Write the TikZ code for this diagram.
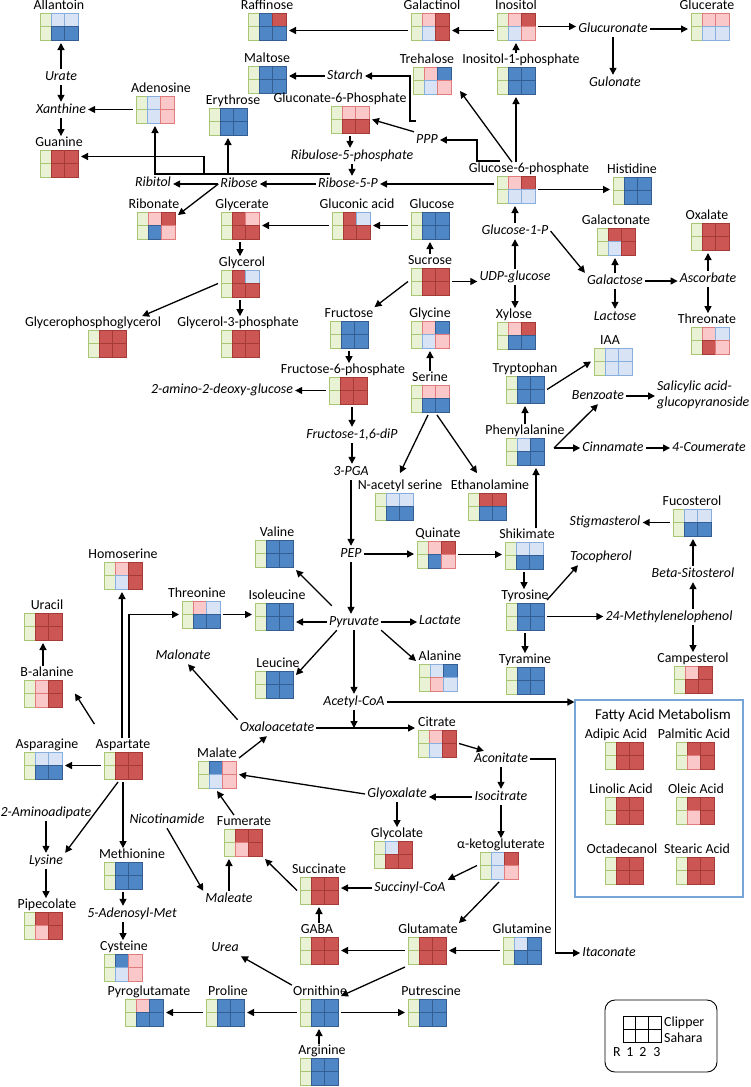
\documentclass[tikz,border=0pt]{standalone}
\usepackage{fontspec}
\setmainfont{Carlito}
\usetikzlibrary{positioning}
\usetikzlibrary{arrows.meta}

\definecolor{redF}{RGB}{203,86,84}
\definecolor{redB}{RGB}{165,58,55}
\definecolor{pinkF}{RGB}{250,200,200}
\definecolor{pinkB}{RGB}{226,124,124}
\definecolor{bluF}{RGB}{79,134,198}
\definecolor{bluB}{RGB}{52,94,146}
\definecolor{skyF}{RGB}{216,228,245}
\definecolor{skyB}{RGB}{134,174,222}
\definecolor{grnF}{RGB}{234,242,214}
\definecolor{grnB}{RGB}{168,198,116}
\definecolor{faB}{RGB}{120,165,215}

\newcommand\dfont{\fontsize{13.9}{16}\selectfont}

\tikzset{
  cg/.style={fill=grnF, draw=grnB, line width=0.8pt},
  cR/.style={fill=redF, draw=redB, line width=1pt},
  cr/.style={fill=pinkF, draw=pinkB, line width=0.8pt},
  cB/.style={fill=bluF, draw=bluB, line width=1pt},
  cb/.style={fill=skyF, draw=skyB, line width=0.8pt},
  glyph/.style={rectangle, minimum width=38pt, minimum height=27pt, inner sep=0pt, outer sep=3pt},
  lbl/.style={font=\dfont, inner sep=1pt, text height=9.5pt, text depth=2.5pt},
  mid/.style={font=\dfont\itshape, inner sep=2pt, text height=9.5pt, text depth=2.5pt},
  arr/.style={line width=1.3pt, -{Triangle[length=7pt,width=7pt]}}
}

% glyph: id, x, y, label shift, label, top-1, top-2, bottom-1, bottom-2
\newcommand\met[9]{%
  \begin{scope}[shift={(#2,#3)}]
    \path[cg] (0,0) rectangle (11,13.5) (0,13.5) rectangle (11,27);
    \path[c#6] (11,0) rectangle (24.5,13.5);
    \path[c#7] (24.5,0) rectangle (38,13.5);
    \path[c#8] (11,13.5) rectangle (24.5,27);
    \path[c#9] (24.5,13.5) rectangle (38,27);
    \node[glyph] (#1) at (19,13.5) {};
  \end{scope}
  \node[lbl, above=-3.5pt of #1, xshift=#4pt] (#1-l) {#5};}

\begin{document}
\begin{tikzpicture}[x=1pt, y=-1pt]
  \useasboundingbox (0,0) rectangle (750,1087);

  \met{allantoin}{40}{13}{0}{Allantoin}{b}{b}{B}{B}
  \met{raffinose}{248}{13}{0}{Raffinose}{B}{R}{B}{B}
  \met{galactinol}{411}{13}{2}{Galactinol}{r}{R}{b}{R}
  \met{inositol}{497}{13}{0}{Inositol}{r}{R}{b}{r}
  \met{glucerate}{691}{13}{-3}{Glucerate}{r}{r}{b}{b}
  \met{maltose}{248}{66}{0}{Maltose}{B}{B}{B}{B}
  \met{trehalose}{413}{67}{-5}{Trehalose}{r}{B}{b}{r}
  \met{inositolp}{497}{67}{5}{Inositol-1-phosphate}{B}{B}{B}{B}
  \met{adenosine}{136}{96}{6}{Adenosine}{b}{r}{b}{r}
  \met{erythrose}{209}{108}{5}{Erythrose}{B}{B}{B}{B}
  \met{gluconatep}{331}{106}{-10}{Gluconate-6-Phosphate}{r}{r}{R}{R}
  \met{guanine}{40}{150}{0}{Guanine}{R}{R}{R}{R}
  \met{gsixp}{497}{176}{13}{Glucose-6-phosphate}{r}{R}{b}{b}
  \met{histidine}{613}{177}{0}{Histidine}{B}{B}{B}{B}
  \met{ribonate}{137}{212}{-2}{Ribonate}{r}{R}{B}{r}
  \met{glycerate}{221}{212}{2}{Glycerate}{R}{r}{R}{R}
  \met{gluconic}{332}{212}{6}{Gluconic acid}{R}{b}{R}{R}
  \met{glucose}{411}{212}{2}{Glucose}{B}{B}{B}{B}
  \met{galactonate}{597}{228}{0}{Galactonate}{R}{R}{b}{R}
  \met{oxalate}{691}{223}{-3}{Oxalate}{R}{R}{R}{R}
  \met{glycerol}{221}{270}{2}{Glycerol}{R}{b}{R}{R}
  \met{sucrose}{411}{268}{0}{Sucrose}{R}{R}{R}{R}
  \met{gpg}{88}{330}{-14}{Glycerophosphoglycerol}{R}{R}{R}{R}
  \met{glycerolp}{221}{330}{-2}{Glycerol-3-phosphate}{R}{R}{R}{R}
  \met{fructose}{330}{321}{0}{Fructose}{B}{B}{B}{B}
  \met{glycine}{411}{321}{0}{Glycine}{r}{B}{b}{r}
  \met{xylose}{497}{322}{-2}{Xylose}{r}{R}{B}{B}
  \met{threonate}{691}{327}{-3}{Threonate}{r}{b}{R}{r}
  \met{iaa}{594}{348}{-3}{IAA}{b}{b}{b}{b}
  \met{fsixp}{329}{377}{-5}{Fructose-6-phosphate}{R}{R}{R}{R}
  \met{tryptophan}{506}{376}{0}{Tryptophan}{B}{B}{B}{B}
  \met{serine}{411}{385}{0}{Serine}{r}{r}{B}{B}
  \met{phenylalanine}{506}{438}{0}{Phenylalanine}{b}{B}{B}{B}
  \met{nacetylserine}{375}{493}{6}{N-acetyl serine}{b}{b}{B}{B}
  \met{ethanolamine}{468}{493}{3}{Ethanolamine}{R}{R}{B}{B}
  \met{fucosterol}{673}{509}{0}{Fucosterol}{b}{b}{B}{B}
  \met{valine}{255}{540}{3}{Valine}{B}{B}{B}{B}
  \met{quinate}{417}{541}{2}{Quinate}{r}{R}{B}{r}
  \met{shikimate}{505}{542}{3}{Shikimate}{b}{b}{B}{B}
  \met{homoserine}{104}{562}{0}{Homoserine}{r}{R}{b}{R}
  \met{threonine}{182}{601}{-4}{Threonine}{r}{b}{B}{B}
  \met{isoleucine}{255}{603}{3}{Isoleucine}{B}{B}{B}{B}
  \met{tyrosine}{506}{603}{0}{Tyrosine}{B}{B}{B}{B}
  \met{uracil}{24}{613}{4}{Uracil}{R}{R}{R}{R}
  \met{balanine}{24}{680}{4}{B-alanine}{r}{R}{r}{R}
  \met{leucine}{255}{671}{4}{Leucine}{B}{B}{B}{B}
  \met{alanine}{419}{664}{2}{Alanine}{b}{B}{r}{b}
  \met{tyramine}{506}{667}{0}{Tyramine}{B}{B}{B}{B}
  \met{campesterol}{674}{666}{0}{Campesterol}{r}{R}{R}{R}
  \met{citrate}{418}{730}{0}{Citrate}{r}{R}{b}{R}
  \met{asparagine}{24}{752}{4}{Asparagine}{b}{b}{B}{B}
  \met{aspartate}{104}{752}{0}{Aspartate}{R}{R}{R}{R}
  \met{malate}{198}{761}{0}{Malate}{B}{r}{b}{r}
  \met{fumerate}{224}{829}{1}{Fumerate}{R}{R}{r}{R}
  \met{glycolate}{374}{841}{4}{Glycolate}{b}{R}{R}{R}
  \met{aketo}{480}{852}{2}{α-ketogluterate}{b}{R}{b}{r}
  \met{methionine}{104}{862}{9}{Methionine}{B}{B}{B}{B}
  \met{pipecolate}{24}{912}{4}{Pipecolate}{R}{R}{r}{R}
  \met{succinate}{300}{877}{0}{Succinate}{R}{R}{R}{R}
  \met{gaba}{300}{937}{-2}{GABA}{R}{R}{R}{R}
  \met{glutamate}{408}{937}{1}{Glutamate}{R}{R}{R}{R}
  \met{glutamine}{503}{937}{0}{Glutamine}{b}{B}{B}{B}
  \met{cysteine}{104}{954}{1}{Cysteine}{B}{r}{b}{r}
  \met{pyroglutamate}{125}{999}{5}{Pyroglutamate}{r}{B}{B}{B}
  \met{proline}{206}{999}{3}{Proline}{B}{B}{B}{B}
  \met{ornithine}{300}{999}{1}{Ornithine}{B}{B}{B}{B}
  \met{putrescine}{408}{999}{4}{Putrescine}{B}{B}{B}{B}
  \met{arginine}{300}{1058}{3}{Arginine}{B}{B}{B}{B}

  \node[draw=faB, line width=1.1pt, minimum width=168pt, minimum height=197pt, inner sep=0pt] (fa) at (659,798.5) {};
  \node[lbl, font=\fontsize{15}{17}\selectfont] (fa-t) at (663,716) {Fatty Acid Metabolism};
  \met{adipic}{605}{742}{-8}{Adipic Acid}{R}{R}{R}{R}
  \met{palmitic}{676}{742}{-1}{Palmitic Acid}{R}{R}{r}{R}
  \met{linolic}{605}{797}{-3}{Linolic Acid}{R}{R}{R}{R}
  \met{oleic}{676}{797}{1}{Oleic Acid}{R}{R}{r}{R}
  \met{octadecanol}{605}{857}{-2}{Octadecanol}{R}{R}{R}{R}
  \met{stearic}{676}{857}{2}{Stearic Acid}{R}{R}{R}{R}

  \node[mid] (urate) at (61,77) {Urate};
  \node[mid] (xanthine) at (61,110) {Xanthine};
  \node[mid] (starch) at (345,76) {Starch};
  \node[mid] (glucuronate) at (613,29) {Glucuronate};
  \node[mid] (gulonate) at (615,83) {Gulonate};
  \node[mid] (ppp) at (427,140) {PPP};
  \node[mid] (ribulose) at (352,156) {Ribulose-5-phosphate};
  \node[mid] (ribitol) at (153,183) {Ribitol};
  \node[mid] (ribose) at (239,184) {Ribose};
  \node[mid] (rfivep) at (348,184) {Ribose-5-P};
  \node[mid] (gonep) at (515,231) {Glucose-1-P};
  \node[mid] (udpg) at (515,277) {UDP-glucose};
  \node[mid] (galactose) at (615,281) {Galactose};
  \node[mid] (lactose) at (615,317) {Lactose};
  \node[mid] (ascorbate) at (708,279) {Ascorbate};
  \node[mid] (aadg) at (222,390) {2-amino-2-deoxy-glucose};
  \node[mid] (fonesix) at (352,435) {Fructose-1,6-diP};
  \node[mid] (pga) at (351,472) {3-PGA};
  \node[mid] (benzoate) at (598,396) {Benzoate};
  \node[mid, align=left, anchor=west, text height=, text depth=] (salicylic) at (655,395) {Salicylic acid-\\glucopyranoside};
  \node[mid] (cinnamate) at (613,448) {Cinnamate};
  \node[mid] (coumerate) at (709,448) {4-Coumerate};
  \node[mid] (stigmasterol) at (605,522) {Stigmasterol};
  \node[mid] (tocopherol) at (601,557) {Tocopherol};
  \node[mid] (pep) at (351,554) {PEP};
  \node[mid] (betasito) at (693,574) {Beta-Sitosterol};
  \node[mid] (methylen) at (669,617) {24-Methylenelophenol};
  \node[mid] (pyruvate) at (354,622) {Pyruvate};
  \node[mid] (lactate) at (440,621) {Lactate};
  \node[mid] (malonate) at (183,656) {Malonate};
  \node[mid] (acetylcoa) at (354,702) {Acetyl-CoA};
  \node[mid] (oxaloacetate) at (277,728) {Oxaloacetate};
  \node[mid] (aconitate) at (501,759) {Aconitate};
  \node[mid] (glyoxalate) at (397,794) {Glyoxalate};
  \node[mid] (isocitrate) at (501,797) {Isocitrate};
  \node[mid] (aminoadipate) at (46,813) {2-Aminoadipate};
  \node[mid] (nicotinamide) at (167,820) {Nicotinamide};
  \node[mid] (lysine) at (46,861) {Lysine};
  \node[mid] (succinylcoa) at (410,888) {Succinyl-CoA};
  \node[mid] (maleate) at (229,899) {Maleate};
  \node[mid] (sadenosyl) at (132,914) {5-Adenosyl-Met};
  \node[mid] (urea) at (225,948) {Urea};
  \node[mid] (itaconate) at (609,953) {Itaconate};

  \node[draw, rounded corners=10pt, line width=0.9pt, minimum width=112pt, minimum height=72pt] (leg) at (661,1036) {};
  \foreach \i in {0,1,2}
    \foreach \j in {0,1}
      \draw[line width=0.9pt] (623+\i*12.67,1016+\j*13) rectangle ++(12.67,13);
  \node[lbl, anchor=west] (clipper) at (663,1023) {Clipper};
  \node[lbl, anchor=west] (sahara) at (663,1039) {Sahara};
  \foreach \t/\x in {R/617,1/630,2/643,3/657}
    \node[lbl] (leg\t) at (\x,1053) {\t};

  \coordinate (rfive) at (330,174);
  \coordinate (gbend) at (204,174);
  \coordinate (pppup) at (416,121);
  \coordinate (gsixpl) at (500,161);
  \coordinate (phej) at (554,448);
  \coordinate (pheS) at ([xshift=11pt]phenylalanine.south);
  \coordinate (aspA) at ([xshift=-1pt]aspartate-l.north);
  \coordinate (aspB) at ([xshift=6pt]aspartate-l.north);

  \draw[arr] (urate.north) -- (urate.north |- allantoin.south);
  \draw[arr] (urate.south) -- (urate.south |- xanthine.north);
  \draw[arr] (xanthine.south) -- (xanthine.south |- guanine-l.north);
  \draw[arr] (adenosine.west) -- (adenosine.west -| xanthine.east);
  \draw[arr] (rfive) -- (rfive -| adenosine.south) -- (adenosine.south);
  \draw[arr] (rfive -| erythrose.south) -- (erythrose.south);
  \draw[arr] (gbend) |- ([yshift=7pt]guanine.east);
  \draw[arr] (gluconatep.south) -- (gluconatep.south |- ribulose.north);
  \draw[arr] (ribulose.south) -- (ribulose.south |- rfivep.north);
  \draw[arr] (ppp.north west) -- (gluconatep.east);
  \draw[arr] (pppup) -- ++(-6,0) |- (starch.east);
  \draw[arr] (gsixpl) -- ++(-23,0) |- (ppp.east);
  \draw[arr] ([xshift=-17pt]gsixp-l.north) -- ([xshift=6pt,yshift=6pt]trehalose.south east);
  \draw[arr] (gsixp-l.north -| inositolp.south) -- (inositolp.south);
  \draw[arr] (inositolp-l.north -| inositol.south) -- (inositol.south);
  \draw[arr] ([yshift=-4pt]inositol.west) -- ([yshift=-4pt]galactinol.east);
  \draw[arr] ([yshift=-4pt]galactinol.west) -- ([yshift=-4pt]raffinose.east);
  \draw[arr] (inositol.east) -- (inositol.east -| glucuronate.west);
  \draw[arr] (glucuronate.east) -- (glucuronate.east -| glucerate.west);
  \draw[arr] (glucuronate.south) -- (glucuronate.south |- gulonate.north);
  \draw[arr] (starch.west) -- (starch.west -| maltose.east);
  \draw[arr] (gsixp.east) -- (gsixp.east -| histidine.west);
  \draw[arr] (rfivep.east -| gsixp.west) -- (rfivep.east);
  \draw[arr] (gonep.north) -- (gonep.north |- gsixp.south);
  \draw[arr] (udpg.north) -- (udpg.north |- gonep.south);
  \draw[arr] (udpg.south) -- (udpg.south |- xylose-l.north);
  \draw[arr] (sucrose.east) -- (sucrose.east -| udpg.west);
  \draw[arr] (sucrose-l.north -| glucose.south) -- (glucose.south);
  \draw[arr] (sucrose.west) -- (fructose-l.north east);
  \draw[arr] (glucose.west) -- (glucose.west -| gluconic.east);
  \draw[arr] (gluconic.west) -- (gluconic.west -| glycerate.east);
  \draw[arr] (rfivep.west) -- (rfivep.west -| ribose.east);
  \draw[arr] (ribose.west) -- (ribose.west -| ribitol.east);
  \draw[arr] (ribose.west) -- ([yshift=-6pt]ribonate.north east);
  \draw[arr] (glycerate.south) -- (glycerate.south |- glycerol-l.north);
  \draw[arr] (glycerol.south) -- (glycerol.south |- glycerolp-l.north);
  \draw[arr] (glycerol.west) -- ([xshift=-20pt]gpg-l.north east);
  \draw[arr] (gonep.east) -- (galactose.north west);
  \draw[arr] (galactose.north) -- (galactose.north |- galactonate.south);
  \draw[arr] (galactose.south) -- (galactose.south |- lactose.north);
  \draw[arr] (galactose.east) -- (galactose.east -| ascorbate.west);
  \draw[arr] (ascorbate.north) -- (ascorbate.north |- oxalate.south);
  \draw[arr] (ascorbate.south) -- (ascorbate.south |- threonate-l.north);
  \draw[arr] (fructose.south) -- (fructose.south |- fsixp-l.north);
  \draw[arr] (fsixp.west) -- (fsixp.west -| aadg.east);
  \draw[arr] (fsixp.south -| fonesix.north) -- (fonesix.north);
  \draw[arr] (fonesix.south) -- (fonesix.south |- pga.north);
  \draw[arr] (pga.south) -- (pga.south |- pep.north);
  \draw[arr] (pep.south) -- (pep.south |- pyruvate.north);
  \draw[arr] (pyruvate.south) -- (pyruvate.south |- acetylcoa.north);
  \draw[arr] (pep.east) -- (pep.east -| quinate.west);
  \draw[arr] (quinate.east) -- (quinate.east -| shikimate.west);
  \draw[arr] (shikimate-l.north -| pheS) -- (pheS);
  \draw[arr] (shikimate.south) -- (shikimate.south |- tyrosine-l.north);
  \draw[arr] (tyrosine.south) -- (tyrosine.south |- tyramine-l.north);
  \draw[arr] (tyrosine.north east) -- ([xshift=10pt]tocopherol.south west);
  \draw[arr] (tyrosine.east) -- (tyrosine.east -| methylen.west);
  \draw[arr] (methylen.north -| betasito.south) -- (betasito.south);
  \draw[arr] (betasito.north) -- (betasito.north |- fucosterol.south);
  \draw[arr] (methylen.south -| campesterol-l.north) -- (campesterol-l.north);
  \draw[arr] (fucosterol.west) -- (fucosterol.west -| stigmasterol.east);
  \draw[arr] (serine-l.north -| glycine.south) -- (glycine.south);
  \draw[arr] ([xshift=-2pt]serine.south) -- ([yshift=6pt]nacetylserine-l.north);
  \draw[arr] ([xshift=7pt]serine.south) -- ([xshift=-13pt,yshift=6pt]ethanolamine-l.north);
  \draw[arr] (phenylalanine-l.north) -- (phenylalanine-l.north |- tryptophan.south);
  \draw[arr] (tryptophan.east) -- (iaa.west);
  \draw[arr] (phej) -- (benzoate.south);
  \draw[arr] (phej) -- (phej -| cinnamate.west);
  \draw[arr] (cinnamate.east) -- (cinnamate.east -| coumerate.west);
  \draw[arr] (benzoate.east) -- (benzoate.east -| salicylic.west);
  \draw[arr] ([xshift=5pt,yshift=8pt]pyruvate.north west) -- (valine.south east);
  \draw[arr] (pyruvate.west) -- (pyruvate.west -| isoleucine.east);
  \draw[arr] ([xshift=10pt]pyruvate.south west) -- ([yshift=-7pt]leucine.north east);
  \draw[arr] (pyruvate.east) -- (pyruvate.east -| lactate.west);
  \draw[arr] (pyruvate.south east) -- (alanine.north west);
  \draw[arr] (threonine.east) -- (threonine.east -| isoleucine.west);
  \draw[arr] (aspA) -- (aspA |- homoserine.south);
  \draw[arr] (aspB) |- (threonine.west);
  \draw[arr] ([yshift=14pt]aspartate-l.north west) -- ([xshift=10pt]balanine.east);
  \draw[arr] (aspartate.west) -- (aspartate.west -| asparagine.east);
  \draw[arr] ([xshift=-5pt]aspartate.south) -- (lysine.north east);
  \draw[arr] (aspartate.south) -- (aspartate.south |- methionine-l.north);
  \draw[arr] (balanine-l.north -| uracil.south) -- (uracil.south);
  \draw[arr] (aminoadipate.south) -- (aminoadipate.south |- lysine.north);
  \draw[arr] (lysine.south) -- (lysine.south |- pipecolate-l.north);
  \draw[arr] (methionine.south) -- (methionine.south |- sadenosyl.north);
  \draw[arr] (sadenosyl.south -| methionine.south) -- (methionine.south |- cysteine-l.north);
  \draw[arr] (nicotinamide.south) -- (maleate.north west);
  \draw[arr] (maleate.north) -- (maleate.north |- fumerate.south);
  \draw[arr] (succinate.west) -- (fumerate.south east);
  \draw[arr] ([xshift=-10pt]fumerate-l.north) -- (malate.south);
  \draw[arr] (malate.north east) -- ([xshift=-10pt]oxaloacetate.south);
  \draw[arr] (glyoxalate.west) -- (malate.east);
  \draw[arr] (oxaloacetate.north west) -- ([xshift=5pt]malonate.south);
  \draw[arr] (oxaloacetate.east) -- (oxaloacetate.east -| citrate.west);
  \draw[arr] (acetylcoa.south) -- (acetylcoa.south |- oxaloacetate.east);
  \draw[arr] (acetylcoa.east) -- (acetylcoa.east -| fa.west);
  \draw[arr] (citrate.east) -- ([xshift=12pt]aconitate.north west);
  \draw[arr] (aconitate.east) -- ++(25,0) |- (itaconate.west);
  \draw[arr] (aconitate.south) -- (aconitate.south |- isocitrate.north);
  \draw[arr] (isocitrate.west) -- (isocitrate.west -| glyoxalate.east);
  \draw[arr] (glyoxalate.south) -- (glyoxalate.south |- glycolate-l.north);
  \draw[arr] (isocitrate.south) -- (isocitrate.south |- aketo-l.north);
  \draw[arr] (aketo.west) -- (succinylcoa.north east);
  \draw[arr] (aketo.south) -- (glutamate-l.north east);
  \draw[arr] (succinylcoa.west) -- (succinylcoa.west -| succinate.east);
  \draw[arr] (glutamine.west) -- (glutamine.west -| glutamate.east);
  \draw[arr] (glutamate.west) -- (glutamate.west -| gaba.east);
  \draw[arr] (glutamate.south west) -- (ornithine.north east);
  \draw[arr] (gaba-l.north -| succinate.south) -- (succinate.south);
  \draw[arr] (ornithine.west) -- (ornithine.west -| proline.east);
  \draw[arr] (proline.west) -- (proline.west -| pyroglutamate.east);
  \draw[arr] (ornithine.east) -- (ornithine.east -| putrescine.west);
  \draw[arr] (ornithine-l.north west) -- (urea.south east);
  \draw[arr] (arginine-l.north -| ornithine.south) -- (ornithine.south);
\end{tikzpicture}
\end{document}
